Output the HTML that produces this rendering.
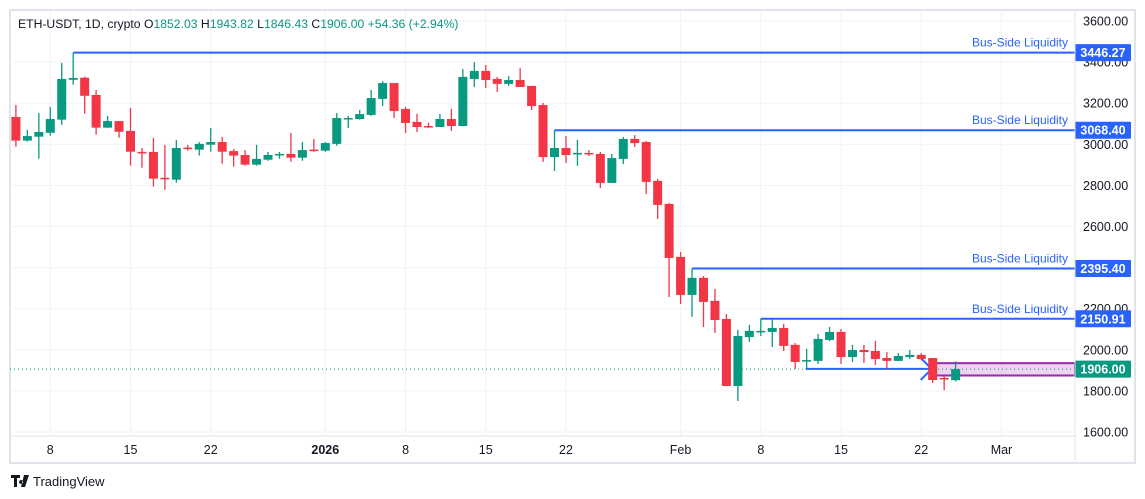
<!DOCTYPE html>
<html><head><meta charset="utf-8"><style>
body{margin:0;background:#fff;font-family:"Liberation Sans",sans-serif}
svg{display:block}
text{font-family:"Liberation Sans",sans-serif}
</style></head><body>
<svg id="chart" width="1145" height="499" viewBox="0 0 1145 499" xmlns="http://www.w3.org/2000/svg">
<rect x="0" y="0" width="1145" height="499" fill="#fff"/>
<rect x="10" y="10" width="1125" height="453" fill="#fff" stroke="#e0e3eb" stroke-width="2"/>
<g id="grid"></g>
<line x1="10" y1="436" x2="1075" y2="436" stroke="#e0e3eb" stroke-width="1"/>
<g id="levels"></g>
<g id="candles"></g>
<g id="axis"></g>
<g id="xaxis"></g>
<text x="18" y="28" font-size="12.2" fill="#131722">ETH-USDT, 1D, crypto <tspan fill="#131722">O</tspan><tspan fill="#089981">1852.03</tspan> <tspan fill="#131722">H</tspan><tspan fill="#089981">1943.82</tspan> <tspan fill="#131722">L</tspan><tspan fill="#089981">1846.43</tspan> <tspan fill="#131722">C</tspan><tspan fill="#089981">1906.00</tspan> <tspan fill="#089981">+54.36 (+2.94%)</tspan></text>
<g>
<path d="M11 475h9v3h-3v9h-3v-9h-3z M21 480a2 2 0 1 0 0.1 0z M24 475h5l-4 12h-4z" fill="#131722"/>
<text x="33" y="486" font-size="13" fill="#131722">TradingView</text>
</g>
</svg>
<script>
const opens=[3133,3018,3037,3056,3120,3314,3324,3240,3081,3113,3065,2963,2963,2837,2828,2984,2974,2998,3011,2967,2948,2901,2925,2949,2953,2935,2974,2969,3002,3125,3123,3143,3221,3298,3172,3109,3089,3084,3123,3089,3318,3357,3318,3294,3313,3284,3191,2938,2982,2953,2958,2953,2812,2929,3026,3011,2822,2710,2452,2267,2350,2238,2150,1824,2062,2087,2087,2106,2024,1946,1946,2048,2087,1965,1999,1994,1960,1946,1965,1975,1960,1863,1852];
const highs=[3191,3070,3152,3182,3396,3446,3329,3264,3138,3113,3177,2982,3031,2997,3021,2997,3011,3079,3036,2977,2972,2997,2963,2963,3055,3011,3026,3011,3152,3138,3167,3264,3308,3298,3182,3148,3104,3148,3172,3366,3400,3386,3328,3332,3371,3284,3201,3068,3041,3021,2972,2963,2953,3036,3045,3016,2831,2714,2476,2395,2359,2296,2174,2097,2121,2151,2151,2126,2033,2004,2077,2111,2101,2024,2024,2043,1989,1984,1999,1984,1960,1873,1944];
const lows=[2988,3013,2930,3042,3095,3290,3149,3047,3081,3032,2896,2886,2794,2779,2813,2969,2945,2964,2906,2891,2896,2896,2920,2930,2915,2920,2964,2964,2993,3079,3120,3138,3186,3128,3055,3060,3079,3084,3065,3089,3279,3274,3255,3284,3279,3167,2914,2870,2909,2895,2943,2787,2812,2904,2987,2758,2637,2257,2223,2160,2111,2082,1824,1751,2039,2067,2014,1994,1907,1907,1931,2043,1931,1941,1936,1926,1907,1946,1955,1950,1839,1804,1846];
const closes=[3018,3040,3060,3123,3318,3323,3236,3081,3113,3061,2964,2958,2833,2830,2982,2979,3002,3011,2964,2945,2901,2929,2948,2953,2935,2972,2969,3006,3128,3128,3147,3225,3298,3162,3104,3084,3084,3123,3089,3328,3357,3313,3294,3313,3279,3186,2938,2982,2948,2958,2953,2812,2933,3026,3006,2817,2705,2447,2267,2350,2233,2145,1824,2067,2092,2092,2106,2019,1941,1950,2053,2087,1965,1999,1989,1955,1946,1970,1975,1955,1853,1858,1906];
const priceTicks=[1600,1800,2000,2200,2400,2600,2800,3000,3200,3400,3600];
const timeLabels=["8","15","22","2026","8","15","22","Feb","8","15","22","Mar"];
const timeIdx=[3,10,17,27,34,41,48,58,65,72,79,86];
const levelPrices=[3446.27,3068.40,2395.40,2150.91];
const levelStartIdx=[5,47,59,65];
const lastPrice=1906.00;
const boxTop=1935, boxBottom=1875, sweepPrice=1907, sweepStartIdx=69, boxStartIdx=80;

const NS="http://www.w3.org/2000/svg";
const yOf=p=>21+(3600-p)*0.2055;
const xOf=i=>15.9+11.46*i;
function mk(tag,attrs,parent){const e=document.createElementNS(NS,tag);for(const k in attrs)e.setAttribute(k,attrs[k]);parent.appendChild(e);return e;}
const grid=document.getElementById('grid'),axis=document.getElementById('axis'),xaxis=document.getElementById('xaxis'),cg=document.getElementById('candles'),lv=document.getElementById('levels');
priceTicks.forEach(p=>{
 const l=mk('line',{x1:10,x2:1075,y1:yOf(p),y2:yOf(p),stroke:'#f0f3fa','stroke-width':1},grid);
 
 
 const t=mk('text',{x:1083,y:yOf(p)+4.5,'font-size':12.5,fill:'#131722'},axis);
 t.textContent=p.toFixed(2);
 
 
});
timeIdx.forEach((d,k)=>{
 const x=xOf(d);
 const l=mk('line',{x1:x,x2:x,y1:11,y2:436,stroke:'#f0f3fa','stroke-width':1},grid);
 
 
 const t=mk('text',{x:x,y:454,'font-size':12.5,fill:'#131722','text-anchor':'middle','font-weight':timeLabels[k]==='2026'?'bold':'normal'},xaxis);
 t.textContent=timeLabels[k];
 
 
});
const dl=mk('line',{x1:10,x2:1075,y1:yOf(lastPrice),y2:yOf(lastPrice),stroke:'#089981','stroke-width':1,'stroke-dasharray':'1 3'},lv);


const bx=mk('rect',{x:xOf(boxStartIdx)-1,y:yOf(boxTop),width:1075-xOf(boxStartIdx)+1,height:yOf(boxBottom)-yOf(boxTop),fill:'rgba(156,39,176,0.2)',stroke:'#9c27b0','stroke-width':2},lv);


const sy=yOf(sweepPrice), ax=xOf(boxStartIdx)-1;
const sl=mk('line',{x1:xOf(sweepStartIdx)-1,x2:ax,y1:sy,y2:sy,stroke:'#2962ff','stroke-width':2},lv);


const ah=mk('path',{d:`M${ax-11} ${sy-11} L${ax} ${sy} L${ax-11} ${sy+11}`,fill:'none',stroke:'#2962ff','stroke-width':2},lv);


levelPrices.forEach((p,k)=>{
 const y=yOf(p);
 const l=mk('line',{x1:xOf(levelStartIdx[k]),x2:1075,y1:y,y2:y,stroke:'#2962ff','stroke-width':2},lv);
 
 
 const t=mk('text',{x:1068,y:y-6,'font-size':12,fill:'#2962ff','text-anchor':'end'},lv);
 t.textContent='Bus-Side Liquidity';
 
 
});
for(let i=0;i<opens.length;i++){
 const up=closes[i]>=opens[i], col=up?'#089981':'#f23645', x=xOf(i);
 const w=mk('line',{x1:x,x2:x,y1:yOf(highs[i]),y2:yOf(lows[i]),stroke:col,'stroke-width':1.3},cg);
 
 
 const top=yOf(Math.max(opens[i],closes[i])), bot=yOf(Math.min(opens[i],closes[i]));
 const b=mk('rect',{x:x-4.5,y:top,width:9,height:Math.max(1.5,bot-top),fill:col},cg);
 
 
}
levelPrices.concat([lastPrice]).forEach((p,k)=>{
 const y=yOf(p), last=k===levelPrices.length;
 const r=mk('rect',{x:1075,y:y-8.5,width:56,height:17,fill:last?'#089981':'#2962ff',rx:1},axis);
 
 
 const t=mk('text',{x:1103,y:y+4.5,'font-size':12.5,'font-weight':'bold',fill:'#fff','text-anchor':'middle'},axis);
 t.textContent=p.toFixed(2);
 
 
});
const ab=mk('line',{x1:1075,x2:1075,y1:11,y2:462,stroke:'#e0e3eb','stroke-width':1},axis);


</script>
</body></html>
